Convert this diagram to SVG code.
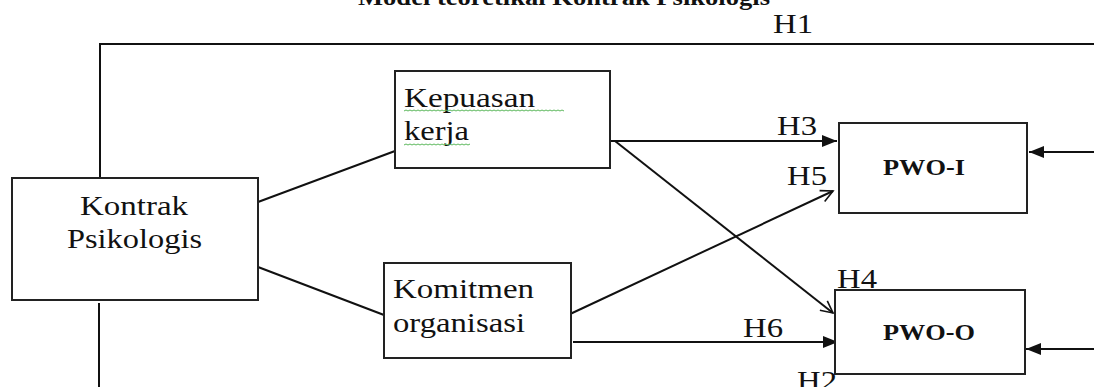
<svg xmlns="http://www.w3.org/2000/svg" width="1094" height="387" viewBox="0 0 1094 387">
<style>
.box{fill:#fff;stroke:#222;stroke-width:2}
.ln{fill:none;stroke:#111;stroke-width:2}
.t{font-family:"Liberation Serif","Times New Roman",serif;font-size:27px;fill:#111}
.b{font-family:"Liberation Serif","Times New Roman",serif;font-size:24px;font-weight:bold;fill:#111}
.sq{fill:none;stroke:#5cb85c;stroke-width:1}
</style>
<defs>
<marker id="fa" markerUnits="userSpaceOnUse" markerWidth="16" markerHeight="14" refX="15" refY="7" orient="auto">
<path d="M0,1 L15,7 L0,13 z" fill="#111"/>
</marker>
<marker id="oa" markerUnits="userSpaceOnUse" markerWidth="16" markerHeight="16" refX="14" refY="8" orient="auto">
<path d="M2,2 L14,8 L2,14" fill="none" stroke="#111" stroke-width="1.6"/>
</marker>
</defs>
<rect width="1094" height="387" fill="#fff"/>
<text class="b" x="358" y="5" textLength="412" lengthAdjust="spacingAndGlyphs">Model teoretikal Kontrak Psikologis</text>
<g id="connectors">
<polyline class="ln" points="100,178 100,44 1094,44"/>
<line class="ln" x1="99" y1="303" x2="99" y2="387"/>
<line class="ln" x1="258" y1="202" x2="395" y2="151"/>
<line class="ln" x1="258" y1="267" x2="384" y2="315"/>
<line class="ln" x1="611" y1="141" x2="837" y2="141" marker-end="url(#fa)"/>
<line class="ln" x1="615" y1="141" x2="833" y2="313" marker-end="url(#oa)"/>
<line class="ln" x1="568" y1="315" x2="833" y2="191" marker-end="url(#oa)"/>
<line class="ln" x1="573" y1="342" x2="838" y2="342" marker-end="url(#fa)"/>
<line class="ln" x1="1094" y1="152" x2="1029" y2="152" marker-end="url(#fa)"/>
<line class="ln" x1="1094" y1="349" x2="1026" y2="349" marker-end="url(#fa)"/>
<text class="t" x="773" y="33" textLength="40" lengthAdjust="spacingAndGlyphs">H1</text>
<text class="t" x="777" y="135" textLength="40" lengthAdjust="spacingAndGlyphs">H3</text>
<text class="t" x="787" y="185" textLength="40" lengthAdjust="spacingAndGlyphs">H5</text>
<text class="t" x="837" y="288" textLength="40" lengthAdjust="spacingAndGlyphs">H4</text>
<text class="t" x="743" y="337" textLength="40" lengthAdjust="spacingAndGlyphs">H6</text>
<text class="t" x="797" y="390" textLength="40" lengthAdjust="spacingAndGlyphs">H2</text>
</g>
<g id="kontrak">
<rect class="box" x="12" y="178" width="246" height="122"/>
<text class="t" x="80" y="215" textLength="108" lengthAdjust="spacingAndGlyphs">Kontrak</text>
<text class="t" x="67" y="248" textLength="135" lengthAdjust="spacingAndGlyphs">Psikologis</text>
</g>
<g id="kepuasan">
<rect class="box" x="395" y="71" width="215" height="97"/>
<text class="t" x="404" y="107" textLength="131" lengthAdjust="spacingAndGlyphs">Kepuasan</text>
<text class="t" x="404" y="140" textLength="65" lengthAdjust="spacingAndGlyphs">kerja</text>
<path class="sq" d="M404,111 l2,-1 l2,1 l2,-1 l2,1 l2,-1 l2,1 l2,-1 l2,1 l2,-1 l2,1 l2,-1 l2,1 l2,-1 l2,1 l2,-1 l2,1 l2,-1 l2,1 l2,-1 l2,1 l2,-1 l2,1 l2,-1 l2,1 l2,-1 l2,1 l2,-1 l2,1 l2,-1 l2,1 l2,-1 l2,1 l2,-1 l2,1 l2,-1 l2,1 l2,-1 l2,1 l2,-1 l2,1 l2,-1 l2,1 l2,-1 l2,1 l2,-1 l2,1 l2,-1 l2,1 l2,-1 l2,1 l2,-1 l2,1 l2,-1 l2,1 l2,-1 l2,1 l2,-1 l2,1 l2,-1 l2,1 l2,-1 l2,1 l2,-1 l2,1 l2,-1 l2,1 l2,-1 l2,1 l2,-1 l2,1 l2,-1 l2,1 l2,-1 l2,1 l2,-1 l2,1 l2,-1 l2,1 l2,-1 l2,1"/>
<path class="sq" d="M404,145 l2,-1 l2,1 l2,-1 l2,1 l2,-1 l2,1 l2,-1 l2,1 l2,-1 l2,1 l2,-1 l2,1 l2,-1 l2,1 l2,-1 l2,1 l2,-1 l2,1 l2,-1 l2,1 l2,-1 l2,1 l2,-1 l2,1 l2,-1 l2,1 l2,-1 l2,1 l2,-1 l2,1 l2,-1 l2,1 l2,-1"/>
</g>
<g id="komitmen">
<rect class="box" x="384" y="263" width="187" height="95"/>
<text class="t" x="393" y="298" textLength="141" lengthAdjust="spacingAndGlyphs">Komitmen</text>
<text class="t" x="393" y="332" textLength="132" lengthAdjust="spacingAndGlyphs">organisasi</text>
</g>
<g id="pwo-i">
<rect class="box" x="839" y="123" width="188" height="90"/>
<text class="b" x="883" y="175" textLength="82" lengthAdjust="spacingAndGlyphs">PWO-I</text>
</g>
<g id="pwo-o">
<rect class="box" x="835" y="290" width="190" height="84"/>
<text class="b" x="883" y="340" textLength="92" lengthAdjust="spacingAndGlyphs">PWO-O</text>
</g>
</svg>
